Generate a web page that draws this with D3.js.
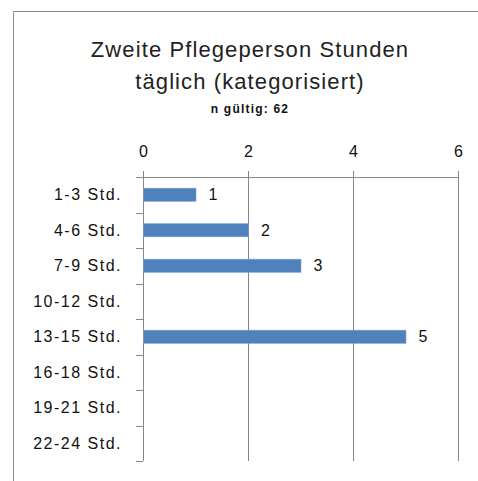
<!DOCTYPE html>
<html>
<head>
<meta charset="utf-8">
<script src="https://cdn.jsdelivr.net/npm/d3@7"></script>
<style>
  body { margin: 0; background: #fff; }
  text { font-family: "Liberation Sans", Arial, sans-serif; fill: #111; }
</style>
</head>
<body>
<div id="chart"></div>
<script>
// data
var categories = ["1-3 Std.", "4-6 Std.", "7-9 Std.", "10-12 Std.", "13-15 Std.", "16-18 Std.", "19-21 Std.", "22-24 Std."];
var values = [1, 2, 3, 0, 5, 0, 0, 0];
var xTicks = [0, 2, 4, 6];
var titleLines = ["Zweite Pflegeperson Stunden", "täglich (kategorisiert)"];
var subtitle = "n gültig: 62";

var W = 478, H = 481;
var margin = {top: 177, left: 143};
var width = 458 - margin.left,
    height = 461 - margin.top;

var svg = d3.select("#chart").append("svg")
    .attr("width", W)
    .attr("height", H);

// chart area border (left + top, the rest is cut off)
svg.append("path")
    .attr("d", "M13.5," + H + "V11.5H" + W)
    .attr("fill", "none")
    .attr("stroke", "#8c8c8c")
    .attr("stroke-width", 1);

// title
svg.selectAll(".title")
    .data(titleLines)
  .enter().append("text")
    .attr("class", "title")
    .attr("x", 250)
    .attr("y", function(d, i) { return 57 + i * 32; })
    .attr("text-anchor", "middle")
    .style("font-size", "22px")
    .style("letter-spacing", "1.1px")
    .style("fill", "#222")
    .text(function(d) { return d; });

svg.append("text")
    .attr("x", 250)
    .attr("y", 113)
    .attr("text-anchor", "middle")
    .style("font-size", "12px")
    .style("letter-spacing", "1.2px")
    .style("font-weight", "bold")
    .text(subtitle);

var g = svg.append("g")
    .attr("transform", "translate(" + margin.left + "," + margin.top + ")");

var x = d3.scaleLinear().domain([0, 6]).range([0, width]);
var y = d3.scaleBand().domain(categories).range([0, height]).paddingInner(0.63).paddingOuter(0.315);
var yb = d3.scaleBand().domain(categories).range([0, height]);

// vertical gridlines
g.selectAll(".grid")
    .data(xTicks.slice(1))
  .enter().append("line")
    .attr("class", "grid")
    .attr("x1", function(d) { return Math.round(x(d)) + 0.5; })
    .attr("x2", function(d) { return Math.round(x(d)) + 0.5; })
    .attr("y1", 0)
    .attr("y2", height)
    .attr("stroke", "#868686");

// top axis
var xAxis = g.append("g")
    .call(d3.axisTop(x).tickValues(xTicks).tickSize(6).tickPadding(14).tickFormat(d3.format("d")));
xAxis.select(".domain").attr("stroke", "#868686");
xAxis.selectAll(".tick line").attr("stroke", "#868686");
xAxis.selectAll("text").style("font-size", "16px").attr("fill", "#111").style("font-family", "Liberation Sans, Arial, sans-serif");

// left axis with ticks between categories
var yAxis = g.append("g");
yAxis.append("line")
    .attr("x1", 0.5).attr("x2", 0.5)
    .attr("y1", 0).attr("y2", height)
    .attr("stroke", "#868686");
yAxis.selectAll(".ytick")
    .data(categories.concat(["end"]))
  .enter().append("line")
    .attr("class", "ytick")
    .attr("x1", -7).attr("x2", 0)
    .attr("y1", function(d, i) { return Math.round(i * yb.step()) + 0.5; })
    .attr("y2", function(d, i) { return Math.round(i * yb.step()) + 0.5; })
    .attr("stroke", "#868686");
yAxis.selectAll(".ylabel")
    .data(categories)
  .enter().append("text")
    .attr("class", "ylabel")
    .attr("x", -21)
    .attr("y", function(d) { return yb(d) + yb.bandwidth() / 2; })
    .attr("dy", "0.35em")
    .attr("text-anchor", "end")
    .style("font-size", "16px")
    .style("letter-spacing", "1.5px")
    .text(function(d) { return d; });

var barData = categories.map(function(c, i) { return {cat: c, val: values[i]}; })
    .filter(function(d) { return d.val > 0; });

// bars
g.selectAll(".bar")
    .data(barData)
  .enter().append("rect")
    .attr("class", "bar")
    .attr("x", 0.5)
    .attr("y", function(d) { return y(d.cat); })
    .attr("width", function(d) { return x(d.val); })
    .attr("height", y.bandwidth())
    .attr("fill", "#4f81bd")
    .attr("stroke", "#7ea3d3")
    .attr("stroke-width", 0.6);

// value labels
g.selectAll(".val")
    .data(barData)
  .enter().append("text")
    .attr("class", "val")
    .attr("x", function(d) { return x(d.val) + 13; })
    .attr("y", function(d) { return y(d.cat) + y.bandwidth() / 2; })
    .attr("dy", "0.35em")
    .style("font-size", "16px")
    .text(function(d) { return d.val; });
</script>
</body>
</html>
